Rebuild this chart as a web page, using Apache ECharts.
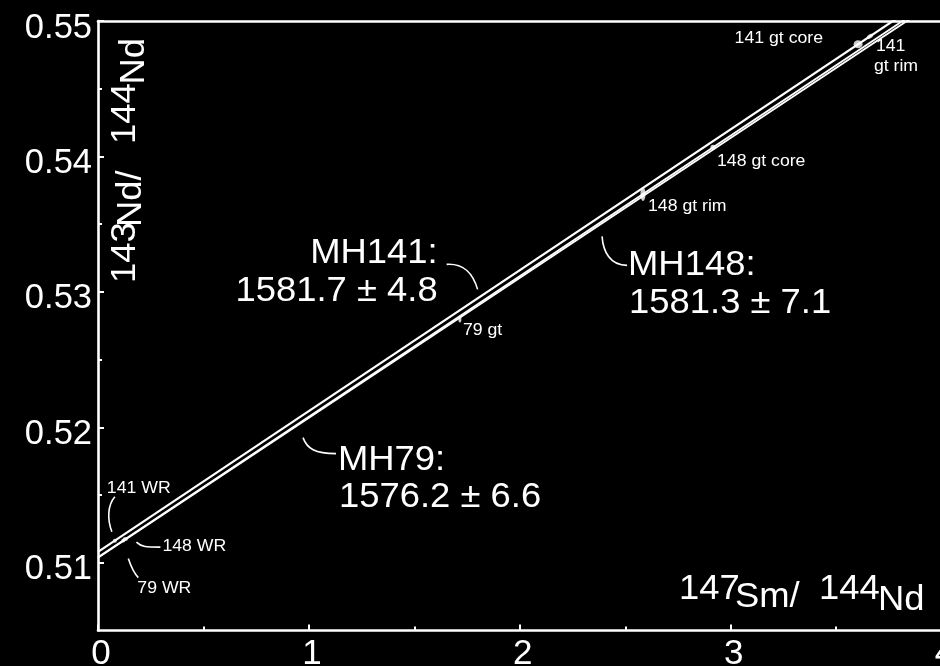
<!DOCTYPE html>
<html>
<head>
<meta charset="utf-8">
<script src="https://cdn.jsdelivr.net/npm/echarts@6/dist/echarts.min.js"></script>
<style>
  html, body { margin: 0; padding: 0; background: #000; }
  #chart { width: 940px; height: 666px; }
</style>
</head>
<body>
<div id="chart"></div>
<script>
// ---- values ----
const xTicks = [0, 1, 2, 3, 4];
const yTicks = [0.51, 0.52, 0.53, 0.54, 0.55];
const yMinorTicks = [0.515, 0.525, 0.535, 0.545];

// isochron end points [147Sm/144Nd, 143Nd/144Nd]
const isoMH141 = [[0, 0.5108], [4, 0.5524]];
const isoMH148 = [[0, 0.5104], [4, 0.55192]];
const isoMH79  = [[0, 0.51038], [4, 0.5517]];

const isoNames = ['MH141', 'MH148', 'MH79'];
const isoAges  = ['1581.7 ± 4.8', '1581.3 ± 7.1', '1576.2 ± 6.6'];

// analysed samples
const sampleNames = ['141 WR', '148 WR', '79 WR', '79 gt', '148 gt rim', '148 gt core', '141 gt core', '141 gt rim'];
const sampleSmNd  = [0.08, 0.13, 0.12, 1.716, 2.584, 2.916, 3.604, 3.66];
const sampleNdNd  = [0.51163, 0.51175, 0.51164, 0.5280, 0.53722, 0.54067, 0.54828, 0.54886];

// ---- styling ----
const FONT = "'Liberation Sans', Arial, Helvetica, sans-serif";
const WHITE = '#ffffff';
const TEXT_STRETCH = 1.04;   // slightly wide lettering

// error-ellipse sizes [w, h] and rotation per sample
const sampleShape = {
  '141 WR': [4, 4, 0], '148 WR': [5, 4, 0], '79 WR': [4, 4, 0],
  '79 gt': [3, 7, 0], '148 gt rim': [5, 14, 0], '148 gt core': [5, 5, 0],
  '141 gt core': [9, 8, 0], '141 gt rim': [7, 4, 34]
};

// sample label layout: pixel offsets from the sample point
const sampleLabelLayout = {
  '141 WR': { texts: [['141 WR', -8, -52, 'left']], leader: [0, -44, -7, -36, -8, -22, -3, -9] },
  '148 WR': { texts: [['148 WR', 37, 7, 'left']], leader: [11, 3, 16, 8, 21, 8, 35, 8] },
  '79 WR': { texts: [['79 WR', 14, 48, 'left']], leader: [5, 18, 8, 27, 10, 32, 15, 37] },
  '79 gt': { texts: [['79 gt', 3, 11, 'left']] },
  '148 gt rim': { texts: [['148 gt rim', 5, 12, 'left']] },
  '148 gt core': { texts: [['148 gt core', 4, 14, 'left']] },
  '141 gt core': { texts: [['141 gt core', -35, -6, 'right']] },
  '141 gt rim': { texts: [['141', 6, 10, 'left'], ['gt rim', 4, 30, 'left']] }
};

// isochron label layout: anchor x on each line, pixel offsets from there
const isoLabelLayout = {
  MH141: { at: 1.80, head: [-40, -45.5, 'right'], age: [-40, -7.5, 'right'],
           leader: [-31, -34, -14, -35, -5, -26, 0, -9] },
  MH148: { at: 2.39, head: [26, 44, 'left'], age: [27, 82, 'left'],
           leader: [0, 15, 1, 30, 8, 44, 25, 44] },
  MH79:  { at: 0.972, head: [35, 39, 'left'], age: [36, 76, 'left'],
           leader: [0, 16, 4, 27, 12, 32, 33, 32] }
};

const chart = echarts.init(document.getElementById('chart'), null, { renderer: 'canvas' });

function isoSeries(name, data, width) {
  return {
    name: name, type: 'line', data: data, symbol: 'none', silent: true,
    lineStyle: { color: WHITE, width: width }, clip: true, z: 3
  };
}

const sampleData = sampleNames.map((n, i) => {
  const s = sampleShape[n];
  return { name: n, value: [sampleSmNd[i], sampleNdNd[i]], symbolSize: [s[0], s[1]], symbolRotate: s[2] };
});

chart.setOption({
  backgroundColor: '#000000',
  animation: false,
  grid: { left: 98, top: 21, width: 843.6, height: 609.5, containLabel: false, outerBoundsMode: 'none' },
  xAxis: [
    {
      type: 'value', min: xTicks[0], max: xTicks[xTicks.length - 1], interval: 1, position: 'bottom',
      axisLine: { show: true, onZero: false, lineStyle: { color: WHITE, width: 2.6 } },
      axisTick: { show: true, inside: true, length: 6, lineStyle: { color: WHITE, width: 2 } },
      minorTick: { show: true, splitNumber: 2, length: 4, lineStyle: { color: WHITE, width: 2 } },
      splitLine: { show: false }, minorSplitLine: { show: false },
      axisLabel: { color: WHITE, fontFamily: FONT, fontSize: 35, margin: 6, padding: [0, 0, 0, 6],
                   showMinLabel: true, showMaxLabel: true, hideOverlap: false }
    },
    {
      type: 'value', min: xTicks[0], max: xTicks[xTicks.length - 1], position: 'top',
      axisLine: { show: true, onZero: false, lineStyle: { color: WHITE, width: 2.6 } },
      axisTick: { show: false }, axisLabel: { show: false }, splitLine: { show: false }
    }
  ],
  yAxis: [
    {
      type: 'value', min: 0.505, max: 0.55, position: 'left',
      axisLine: { show: true, onZero: false, lineStyle: { color: WHITE, width: 2.6 } },
      axisTick: { show: true, inside: true, length: 6, customValues: yTicks, lineStyle: { color: WHITE, width: 2 } },
      axisLabel: { color: WHITE, fontFamily: FONT, fontSize: 34.5, margin: 6,
                   verticalAlign: 'top', lineHeight: 14,
                   customValues: yTicks, formatter: v => v.toFixed(2) },
      splitLine: { show: false }
    },
    {
      type: 'value', min: 0.505, max: 0.55, position: 'left',
      axisLine: { show: false },
      axisTick: { show: true, inside: true, length: 4, customValues: yMinorTicks, lineStyle: { color: WHITE, width: 2 } },
      axisLabel: { show: false }, splitLine: { show: false }
    }
  ],
  series: [
    isoSeries('MH141', isoMH141, 2.2),
    isoSeries('MH148', isoMH148, 1.8),
    isoSeries('MH79', isoMH79, 1.8),
    {
      name: 'samples', type: 'scatter', data: sampleData, silent: true, z: 4,
      itemStyle: { color: WHITE }
    }
  ]
});

// ---- annotations ----
function toPx(x, y) { return chart.convertToPixel({ xAxisIndex: 0, yAxisIndex: 0 }, [x, y]); }

function textEl(str, x, y, align, size) {
  return {
    type: 'text', x: x, y: y, scaleX: TEXT_STRETCH, silent: true, z: 10,
    style: { text: str, fill: WHITE, font: size + 'px ' + FONT,
             align: align, textAlign: align, verticalAlign: 'middle', textVerticalAlign: 'middle' }
  };
}
function leaderEl(p, o) {
  return {
    type: 'bezierCurve', silent: true, z: 10,
    shape: { x1: p[0] + o[0], y1: p[1] + o[1], cpx1: p[0] + o[2], cpy1: p[1] + o[3],
             cpx2: p[0] + o[4], cpy2: p[1] + o[5], x2: p[0] + o[6], y2: p[1] + o[7] },
    style: { stroke: WHITE, lineWidth: 1.6, fill: null }
  };
}
function lineValueAt(line, x) {
  const a = line[0], b = line[1];
  return a[1] + (b[1] - a[1]) * (x - a[0]) / (b[0] - a[0]);
}

const graphics = [];
const isoLines = { MH141: isoMH141, MH148: isoMH148, MH79: isoMH79 };

isoNames.forEach((n, i) => {
  const L = isoLabelLayout[n];
  const p = toPx(L.at, lineValueAt(isoLines[n], L.at));
  graphics.push(leaderEl(p, L.leader));
  graphics.push(textEl(n + ':', p[0] + L.head[0], p[1] + L.head[1], L.head[2], 35));
  graphics.push(textEl(isoAges[i], p[0] + L.age[0], p[1] + L.age[1], L.age[2], 35));
});

sampleNames.forEach((n, i) => {
  const L = sampleLabelLayout[n];
  const p = toPx(sampleSmNd[i], sampleNdNd[i]);
  if (L.leader) graphics.push(leaderEl(p, L.leader));
  L.texts.forEach(t => graphics.push(textEl(t[0], p[0] + t[1], p[1] + t[2], t[3], 17)));
});

// axis titles: 147Sm/144Nd and 143Nd/144Nd with raised mass numbers
const xTitle = [['147', 679, 589.5], ['Sm/', 735, 597.5], ['144', 819, 589.5], ['Nd', 878, 600.5]];
xTitle.forEach(t => graphics.push(textEl(t[0], t[1], t[2], 'left', 35)));

const yTitle = [['143', 125, 283], ['Nd/', 131.5, 227], ['144', 125, 144], ['Nd', 134.5, 84.5]];
yTitle.forEach(t => {
  const el = textEl(t[0], t[1], t[2], 'left', 35);
  el.rotation = Math.PI / 2;
  graphics.push(el);
});

chart.setOption({ graphic: graphics });
</script>
</body>
</html>
